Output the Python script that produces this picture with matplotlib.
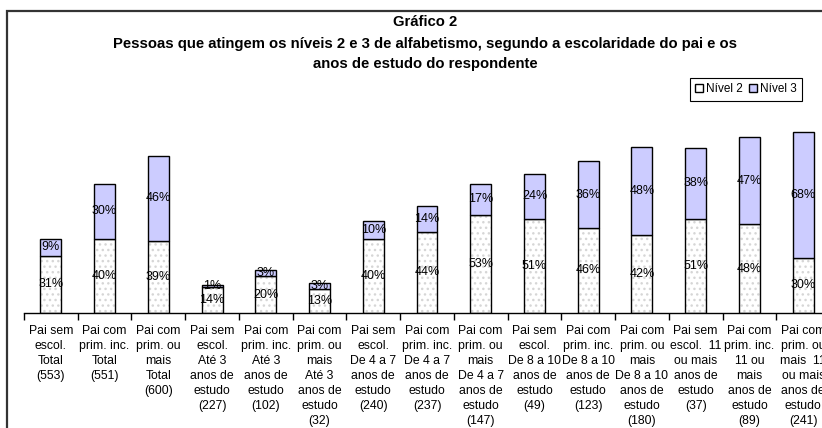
import matplotlib
matplotlib.use("Agg")
import matplotlib.pyplot as plt
from matplotlib.patches import Patch, Rectangle

plt.rcParams['font.family'] = ['Liberation Sans', 'DejaVu Sans']

categories = [
    "Pai sem\nescol.\nTotal\n(553)",
    "Pai com\nprim. inc.\nTotal\n(551)",
    "Pai com\nprim. ou\nmais\nTotal\n(600)",
    "Pai sem\nescol.\nAté 3\nanos de\nestudo\n(227)",
    "Pai com\nprim. inc.\nAté 3\nanos de\nestudo\n(102)",
    "Pai com\nprim. ou\nmais\nAté 3\nanos de\nestudo\n(32)",
    "Pai sem\nescol.\nDe 4 a 7\nanos de\nestudo\n(240)",
    "Pai com\nprim. inc.\nDe 4 a 7\nanos de\nestudo\n(237)",
    "Pai com\nprim. ou\nmais\nDe 4 a 7\nanos de\nestudo\n(147)",
    "Pai sem\nescol.\nDe 8 a 10\nanos de\nestudo\n(49)",
    "Pai com\nprim. inc.\nDe 8 a 10\nanos de\nestudo\n(123)",
    "Pai com\nprim. ou\nmais\nDe 8 a 10\nanos de\nestudo\n(180)",
    "Pai sem\nescol.  11\nou mais\nanos de\nestudo\n(37)",
    "Pai com\nprim. inc.\n11 ou\nmais\nanos de\nestudo\n(89)",
    "Pai com\nprim. ou\nmais  11\nou mais\nanos de\nestudo\n(241)",
]
nivel2 = [31, 40, 39, 14, 20, 13, 40, 44, 53, 51, 46, 42, 51, 48, 30]
nivel3 = [9, 30, 46, 1, 3, 3, 10, 14, 17, 24, 36, 48, 38, 47, 68]
series_names = ["Nível 2", "Nível 3"]
title_lines = [
    "Gráfico 2",
    "Pessoas que atingem os níveis 2 e 3 de alfabetismo, segundo a escolaridade do pai e os",
    "anos de estudo do respondente",
]

W, H = 822, 428
fig = plt.figure(figsize=(W / 100, H / 100), dpi=100)
fig.patch.set_facecolor('white')

# axes: left at 24px, category width ~53.7 px, baseline at y=313px
ax_left = 24 / W
ax_width = 806 / W
ax_bottom = (H - 313) / H
ymax = 110
ax_height = (ymax * 1.85) / H
ax = fig.add_axes([ax_left, ax_bottom, ax_width, ax_height])

x = list(range(len(categories)))
bw = 0.39
c3 = '#CCCCFF'

# Nível 2: white with faint dotted pattern
ax.bar(x, nivel2, width=bw, color='white', edgecolor='#d6d6d6', hatch='...', linewidth=0, zorder=2)
ax.bar(x, nivel2, width=bw, fill=False, edgecolor='black', linewidth=1.0, zorder=3)
# Nível 3
ax.bar(x, nivel3, width=bw, bottom=nivel2, color=c3, edgecolor='black', linewidth=1.0, zorder=3)

for i in x:
    ax.text(i, nivel2[i] / 2, f"{nivel2[i]}%", ha='center', va='center', fontsize=9, zorder=4)
    ax.text(i, nivel2[i] + nivel3[i] / 2, f"{nivel3[i]}%", ha='center', va='center', fontsize=9, zorder=4)

ax.set_xlim(-0.5, len(categories) - 0.5)
ax.set_ylim(0, ymax)
for s in ['left', 'right', 'top']:
    ax.spines[s].set_visible(False)
ax.spines['bottom'].set_linewidth(1.0)
ax.set_yticks([])
ax.set_xticks(x)
ax.set_xticklabels(categories, fontsize=8.8, linespacing=1.32, multialignment='center')
ax.tick_params(axis='x', which='major', length=0, pad=9)
ax.set_xticks([i - 0.5 for i in range(len(categories) + 1)], minor=True)
ax.tick_params(axis='x', which='minor', length=5, width=1.0, direction='out')
ax.patch.set_alpha(0)

# titles
cx = 425 / W
fig.text(cx, 1 - 22 / H, title_lines[0], ha='center', va='center', fontsize=10.7, fontweight='bold')
fig.text(cx, 1 - 44.3 / H, title_lines[1], ha='center', va='center', fontsize=10.7, fontweight='bold')
fig.text(cx, 1 - 64 / H, title_lines[2], ha='center', va='center', fontsize=10.7, fontweight='bold')

# legend
handles = [Patch(facecolor='white', edgecolor='black', linewidth=1.0),
           Patch(facecolor=c3, edgecolor='black', linewidth=1.0)]
leg = fig.legend(handles, series_names, loc='upper right', bbox_to_anchor=(802 / W, 1 - 78 / H),
                 ncol=2, fontsize=8.5, frameon=True, fancybox=False, edgecolor='black',
                 framealpha=1, borderpad=0.45, handlelength=0.7, handleheight=0.7,
                 handletextpad=0.25, columnspacing=0.5, borderaxespad=0)
leg.get_frame().set_linewidth(0.8)

# outer chart border
fig.patches.append(Rectangle((7 / W, -0.1), 1.2, (1 - 10.7 / H) + 0.1, transform=fig.transFigure,
                             fill=False, edgecolor='#333333', linewidth=1.6, clip_on=False))

fig.savefig('out.png', dpi=100)
